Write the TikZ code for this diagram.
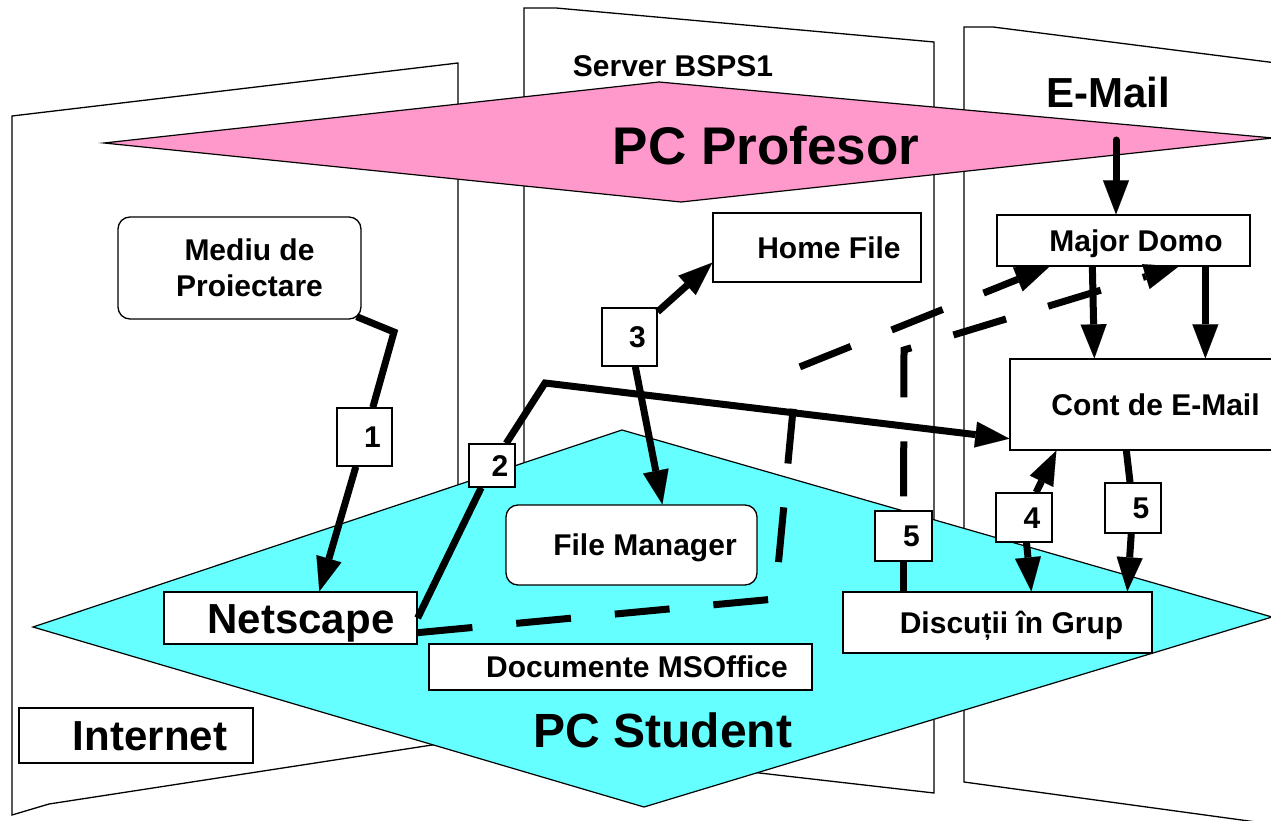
\documentclass[tikz,border=0pt]{standalone}
\usepackage{fontspec}
\setmainfont{Liberation Sans}
\usetikzlibrary{arrows.meta,calc}
\begin{document}
\begin{tikzpicture}[x=1pt,y=-1pt,
  panel/.style={draw=black, fill=white, line width=1.3pt, line join=miter},
  bx/.style={draw=black, fill=white, line width=1.3pt, inner sep=0pt},
  box/.style={bx, font=\bfseries\fontsize{30}{36}\selectfont, text height=21.5pt, text depth=0pt},
  rbox/.style={box, rounded corners=12pt},
  bigbox/.style={bx, font=\bfseries\fontsize{42}{50}\selectfont, text height=30pt, text depth=0pt},
  numbox/.style={box, txoff=16pt},
  txoff/.style={execute at begin node={\hspace*{#1}}},
  thk/.style={line width=7pt},
  tip/.tip={Triangle[length=34pt,width=26pt,line width=0.1pt]},
  arr/.style={thk, -tip},
  dsh/.style={thk, dash pattern=on 55pt off 44pt},
]
\useasboundingbox (0,0) rectangle (1271,821);
\clip (0,0) rectangle (1271,821);
\fill[white] (0,0) rectangle (1271,821);

% panels
\draw[panel] (12,116) -- (458,63) -- (458,741) -- (49,804) -- (12,815) -- cycle;
\draw[panel] (524,8) -- (556,8) -- (934,42) -- (934,793) -- (524,746) -- cycle;
\draw[panel] (964,27) -- (993,27) -- (1300,66) -- (1300,828) -- (964,782) -- cycle;

% diamonds
\draw[fill={rgb,255:red,255;green,153;blue,204}, line width=1.2pt] (104,143) -- (659,82) -- (1273,138) -- (681,202) -- cycle;
\draw[fill={rgb,255:red,102;green,255;blue,255}, line width=1.2pt] (33,627) -- (622,430) -- (1272,617) -- (644,807) -- cycle;

% titles
\node[anchor=base, inner sep=0pt, font=\bfseries\fontsize{30}{36}\selectfont] (server) at (673,77) {Server BSPS1};
\node[anchor=base, inner sep=0pt, font=\bfseries\fontsize{53}{60}\selectfont] (prof) at (766,165) {PC Profesor};
\node[anchor=base, inner sep=0pt, font=\bfseries\fontsize{48}{56}\selectfont] (stud) at (663,747) {PC Student};
\node[anchor=base, inner sep=0pt, font=\bfseries\fontsize{42}{50}\selectfont] (email) at (1108,108) {E-Mail};

% boxes
\node[bx, rounded corners=12pt, font=\bfseries\fontsize{30}{36}\selectfont, align=center,
      minimum width=243pt, minimum height=102pt] (mediu) at (239.5,268)
      {\hspace*{20pt}Mediu de\\\hspace*{20pt}Proiectare};
\node[box, txoff=24pt, minimum width=208pt, minimum height=69pt] (homefile) at (817,247.5) {Home File};
\node[box, txoff=25pt, minimum width=253pt, minimum height=51pt] (majordomo) at (1123.5,240.5) {Major Domo};
\node[box, txoff=24pt, minimum width=267pt, minimum height=91pt] (cont) at (1143.5,404.5) {Cont de E-Mail};
\node[rbox, txoff=27pt, minimum width=251pt, minimum height=80pt] (filemgr) at (631.5,545) {File Manager};
\node[bigbox, txoff=21pt, minimum width=253pt, minimum height=52pt] (netscape) at (290.5,618) {Netscape};
\node[box, txoff=33pt, minimum width=383pt, minimum height=46pt] (docs) at (620.5,667) {Documente MSOffice};
\node[box, txoff=28pt, minimum width=309pt, minimum height=61pt] (disc) at (997.5,622.5) {Discuții în Grup};
\node[bigbox, txoff=28pt, minimum width=234pt, minimum height=55pt] (internet) at (136,735.5) {Internet};

% number labels
\node[numbox, minimum width=55pt, minimum height=58pt] (l1) at (364.5,437) {1};
\node[numbox, minimum width=46pt, minimum height=43pt] (l2) at (492,465.5) {2};
\node[numbox, minimum width=55pt, minimum height=58pt] (l3) at (629.5,337) {3};
\node[numbox, minimum width=57pt, minimum height=50pt] (l5a) at (903.5,536) {5};
\node[numbox, minimum width=56pt, minimum height=49pt] (l4) at (1024,517.5) {4};
\node[numbox, minimum width=56pt, minimum height=50pt] (l5b) at (1133,508) {5};

% connector 1
\draw[thk] ($(mediu.south east)+(-5,-3)$) -- (394,332) -- (l1);
\draw[arr] (l1) -- ($(netscape.north west)+(156,0)$);
% connector 2
\draw[thk] (netscape.east) -- (l2);
\draw[arr] (l2) -- (545,383) -- ($(cont.south west)+(0,-12)$);
% connector 3
\draw[arr] (l3) -- ($(homefile.south west)+(0,-20)$);
\draw[arr] (l3) -- ($(filemgr.north west)+(157,0)$);
% dashed from Netscape
\draw[dsh, -tip] ($(netscape.south east)+(0,-12)$) -- (775,599) -- (797,368) -- ($(majordomo.south west)+(53,0)$);
% dashed from Discutii
\draw[thk] (l5a) -- (l5a.south |- disc.north);
\draw[dsh, dash phase=85pt, -tip] (l5a) -- (904,350) -- ($(majordomo.south west)+(182,0)$);
% E-Mail
\coordinate (emsrc) at (1116,140);
\draw[arr, line cap=round] (emsrc) -- (emsrc |- majordomo.north);
% Major Domo -> Cont
\draw[arr] ($(majordomo.south west)+(96,0)$) -- ($(cont.north west)+(85,0)$);
\draw[arr] ($(majordomo.south west)+(209,0)$) -- ($(cont.north west)+(196,0)$);
% 4
\draw[arr] (l4) -- ($(cont.south west)+(47,0)$);
\draw[arr] (l4) -- ($(disc.north west)+(189,0)$);
% 5
\draw[thk] ($(cont.south west)+(117,0)$) -- (l5b);
\draw[arr] (l5b) -- ($(disc.north west)+(285,0)$);
\end{tikzpicture}
\end{document}
